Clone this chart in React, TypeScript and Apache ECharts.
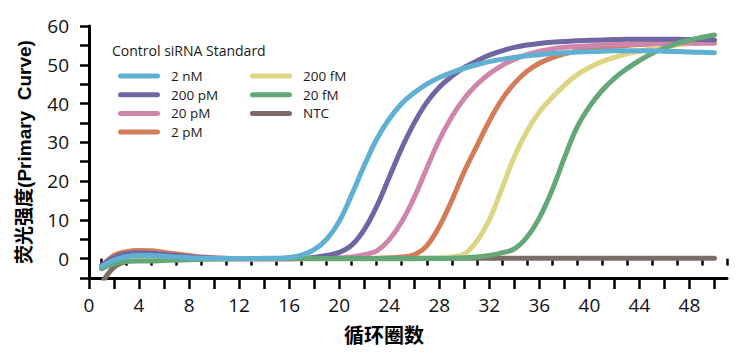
import React, { useEffect, useRef } from "react";
import * as echarts from "echarts";

const cycles = [
  1, 2, 3, 4, 5, 6, 7, 8, 9, 10, 11, 12, 13, 14, 15, 16, 17, 18, 19, 20, 21, 22, 23, 24, 25,
  26, 27, 28, 29, 30, 31, 32, 33, 34, 35, 36, 37, 38, 39, 40, 41, 42, 43, 44, 45, 46, 47, 48, 49, 50,
];

const seriesNames = ["2 nM", "200 pM", "20 pM", "2 pM", "200 fM", "20 fM", "NTC"];

const v2nM = [
  -2.0, -0.4, 0.5, 0.8, 0.8, 0.6, 0.4, 0.2, 0.1, 0.0,
  0.0, 0.0, 0.0, 0.1, 0.1, 0.3, 0.9, 2.3, 5.0, 9.6,
  16.5, 24.0, 30.8, 36.0, 40.0, 42.8, 45.0, 46.7, 48.0, 49.1,
  50.0, 50.8, 51.4, 51.9, 52.3, 52.6, 52.9, 53.1, 53.3, 53.4,
  53.5, 53.6, 53.6, 53.6, 53.6, 53.5, 53.4, 53.3, 53.2, 53.1,
];
const v200pM = [
  -1.8, 0.3, 1.3, 1.5, 1.4, 1.1, 0.8, 0.5, 0.3, 0.1,
  0.0, 0.0, 0.0, 0.0, 0.0, 0.1, 0.1, 0.3, 0.8, 1.6,
  3.5, 7.5, 13.5, 21.0, 28.5, 35.0, 40.3, 44.2, 47.0, 49.3,
  51.0, 52.5, 53.6, 54.5, 55.1, 55.5, 55.8, 56.0, 56.2, 56.3,
  56.4, 56.5, 56.6, 56.6, 56.6, 56.6, 56.6, 56.5, 56.5, 56.4,
];
const v20pM = [
  -2.2, 0.0, 0.9, 1.1, 1.1, 0.9, 0.6, 0.4, 0.2, 0.1,
  0.0, -0.1, -0.1, -0.1, -0.1, -0.1, 0.0, 0.0, 0.1, 0.2,
  0.4, 1.0, 2.0, 4.9, 9.5, 15.8, 23.3, 30.6, 36.6, 41.3,
  44.9, 47.7, 49.8, 51.4, 52.6, 53.5, 54.1, 54.5, 54.7, 54.9,
  55.1, 55.2, 55.3, 55.4, 55.5, 55.5, 55.6, 55.6, 55.6, 55.6,
];
const v2pM = [
  -2.0, 0.8, 1.8, 2.1, 2.0, 1.6, 1.2, 0.8, 0.4, 0.2,
  0.1, 0.0, 0.0, 0.0, 0.0, 0.0, 0.0, 0.0, 0.0, 0.0,
  0.0, 0.0, 0.1, 0.2, 0.4, 1.0, 3.3, 8.3, 15.0, 22.5,
  29.0, 35.5, 41.0, 45.2, 48.3, 50.4, 51.8, 52.8, 53.5, 54.0,
  54.4, 54.7, 55.0, 55.2, 55.3, 55.4, 55.5, 55.5, 55.6, 55.6,
];
const v200fM = [
  -2.3, -0.8, -0.1, 0.1, 0.1, 0.0, -0.1, -0.1, -0.1, -0.1,
  -0.1, -0.1, -0.1, -0.1, -0.1, -0.1, -0.1, -0.1, -0.1, -0.1,
  -0.1, -0.1, -0.1, -0.1, -0.1, -0.1, 0.0, 0.1, 0.4, 1.2,
  4.5, 10.0, 18.0, 26.3, 32.8, 37.8, 41.5, 44.7, 47.4, 49.3,
  50.8, 51.9, 52.8, 53.5, 54.1, 54.6, 55.1, 55.5, 55.8, 56.0,
];
const v20fM = [
  -2.6, -1.3, -0.7, -0.6, -0.6, -0.5, -0.4, -0.3, -0.2, -0.1,
  -0.1, 0.0, 0.0, 0.0, 0.0, 0.0, 0.0, 0.0, 0.0, 0.0,
  0.0, 0.0, 0.0, 0.0, 0.0, 0.0, 0.0, 0.0, 0.1, 0.2,
  0.4, 0.8, 1.5, 2.5, 5.5, 10.5, 17.5, 26.0, 33.8, 39.2,
  43.3, 46.5, 49.0, 51.1, 52.9, 54.3, 55.5, 56.4, 57.1, 57.7,
];
const vNTC = [
  -6.5, -2.2, -0.7, -0.3, -0.2, -0.1, -0.1, 0.0, 0.0, 0.0,
  0.0, 0.0, 0.0, 0.0, 0.0, 0.0, 0.0, 0.0, 0.0, 0.0,
  0.0, 0.0, 0.0, 0.0, 0.0, 0.1, 0.1, 0.1, 0.1, 0.1,
  0.1, 0.1, 0.1, 0.1, 0.1, 0.1, 0.1, 0.1, 0.1, 0.1,
  0.1, 0.1, 0.1, 0.1, 0.1, 0.1, 0.1, 0.1, 0.1, 0.1,
];

const seriesValues = [v2nM, v200pM, v20pM, v2pM, v200fM, v20fM, vNTC];
const seriesColors = ["#5fb0d2", "#6f66a3", "#d086ab", "#d27d58", "#dcd583", "#64a87a", "#7d6c66"];
// drawing order (bottom to top)
const drawOrder = [6, 3, 4, 2, 1, 5, 0];

const xLabelValues = [0, 4, 8, 12, 16, 20, 24, 28, 32, 36, 40, 44, 48];
const xMajorTicks = [0, 2, 4, 6, 8, 10, 12, 14, 16, 18, 20, 22, 24, 26, 28, 30, 32, 34, 36, 38, 40, 42, 44, 46, 48, 50];
const xMinorTicks = [1, 3, 5, 7, 9, 11, 13, 15, 17, 19, 21, 23, 25, 27, 29, 31, 33, 35, 37, 39, 41, 43, 45, 47, 49, 51];
const yLabelValues = [0, 10, 20, 30, 40, 50, 60];
const yTickValues = [-5, 0, 5, 10, 15, 20, 25, 30, 35, 40, 45, 50, 55, 60];

const FONT = "'Open Sans', 'Noto Sans', sans-serif";
const BOLD_FONT = "'Liberation Sans', 'Noto Sans CJK SC', sans-serif";
const CAPSULE = "path://M2.5,0 H39.5 A2.5,2.5 0 0 1 39.5,5 H2.5 A2.5,2.5 0 0 1 2.5,0 Z";

export default function App() {
  const ref = useRef<HTMLDivElement>(null);
  useEffect(() => {
    if (!ref.current) return;
    const chart = echarts.init(ref.current, null, { renderer: "svg" });
    const legendCommon = {
      orient: "vertical",
      top: 64,
      itemWidth: 42,
      itemHeight: 5,
      itemGap: 4.7,
      icon: CAPSULE,
      textStyle: { fontSize: 13.5, fontFamily: FONT, color: "#1a1a1a", lineHeight: 14, padding: [0, 0, 0, 6] },
    };
    chart.setOption({
      animation: false,
      backgroundColor: "#ffffff",
      grid: { left: 89, right: 20, top: 26, bottom: 82, containLabel: false, outerBoundsMode: "none" },
      graphic: [
        {
          type: "text",
          left: 112,
          top: 43,
          style: { text: "Control siRNA Standard", font: `14px ${FONT}`, fill: "#1a1a1a" },
        },
      ],
      legend: [
        { ...legendCommon, left: 113, data: seriesNames.slice(0, 4) },
        { ...legendCommon, left: 245, data: seriesNames.slice(4) },
      ],
      xAxis: [
        {
          type: "value",
          position: "bottom",
          min: 0,
          max: 51,
          name: "循环圈数",
          nameLocation: "middle",
          nameGap: 48,
          nameTextStyle: { fontSize: 20, fontWeight: "bold", fontFamily: BOLD_FONT, color: "#000", padding: [0, 48, 0, 0] },
          axisLine: { show: true, onZero: false, lineStyle: { color: "#000", width: 3 } },
          axisTick: { show: true, customValues: xMajorTicks, length: 11, lineStyle: { color: "#000", width: 2.5 } },
          axisLabel: { customValues: xLabelValues, margin: 17, fontSize: 19, fontFamily: FONT, color: "#111" },
          splitLine: { show: false },
        },
        {
          type: "value",
          position: "bottom",
          min: 0,
          max: 51,
          axisLine: { show: false },
          axisTick: { show: true, customValues: xMinorTicks, length: 7, lineStyle: { color: "#000", width: 2.5 } },
          axisLabel: { show: false },
          splitLine: { show: false },
        },
      ],
      yAxis: {
        type: "value",
        min: -5,
        max: 60,
        name: "荧光强度(Primary  Curve)",
        nameLocation: "middle",
        nameGap: 55,
        nameRotate: 90,
        nameTextStyle: { fontSize: 19, fontWeight: "bold", fontFamily: BOLD_FONT, color: "#000" },
        axisLine: { show: true, onZero: false, lineStyle: { color: "#000", width: 3 } },
        axisTick: { show: true, customValues: yTickValues, length: 9, lineStyle: { color: "#000", width: 2.5 } },
        axisLabel: { customValues: yLabelValues, margin: 20, fontSize: 19, fontFamily: FONT, color: "#111" },
        splitLine: { show: false },
      },
      series: drawOrder.map((i) => ({
        name: seriesNames[i],
        type: "line",
        xAxisIndex: 0,
        data: cycles.map((c, k) => [c, seriesValues[i][k]]),
        showSymbol: false,
        smooth: 0.4,
        clip: true,
        color: seriesColors[i],
        lineStyle: { width: 5, color: seriesColors[i], cap: "round", join: "round" },
      })),
    });
    return () => chart.dispose();
  }, []);
  return (
    <div
      ref={ref}
      style={{ position: "absolute", left: 0, top: 0, width: 747, height: 360 }}
    />
  );
}
